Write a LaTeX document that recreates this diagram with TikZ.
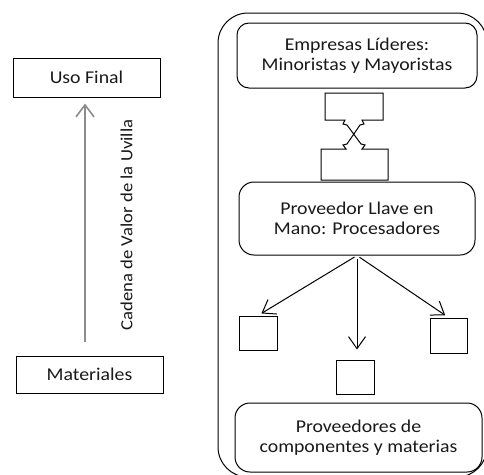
\documentclass[tikz,border=0pt]{standalone}
\usepackage{fontspec}
\setmainfont{Carlito}[FakeStretch=1.1]
\usetikzlibrary{arrows.meta}
\begin{document}
\begin{tikzpicture}[x=1pt,y=-1pt,
  txt/.style={font=\fontsize{18}{19.5}\selectfont, text=black!90, align=center, inner sep=0pt},
  sqbox/.style={draw, line width=1pt, inner sep=0pt, anchor=center},
  rbox/.style={txt, draw, line width=1pt, rounded corners=13pt, anchor=center},
  blarrow/.style={line width=1pt, -{Straight Barb[length=12pt,width=17pt,line width=1pt]}},
  grarrow/.style={draw=black!45, line width=1.6pt, -{Straight Barb[length=12pt,width=18pt,line width=1.6pt]}}]
\useasboundingbox (0,0) rectangle (484,474);
\begin{scope}
\clip (0,0) rectangle (484,474);
% outer container
\draw[line width=1pt, rounded corners=30pt] (218,13) rectangle (487,477);
\end{scope}
% left side
\node[sqbox, txt, minimum width=147pt, minimum height=39pt] (uso) at (86.5,77.5) {Uso Final};
\node[sqbox, txt, minimum width=147pt, minimum height=37pt] (mat) at (89.5,374.5) {Materiales};
\coordinate (ab) at ([xshift=-4.5pt]mat.north);
\draw[grarrow, shorten <=14pt, shorten >=6pt] (ab) -- (uso.south -| ab);
\node[txt, font=\fontsize{17}{19}\selectfont, rotate=90] (lbl) at (126.5,225) {Cadena de Valor de la Uvilla};
% right side
\node[rbox, minimum width=240pt, minimum height=65pt, rounded corners=12pt] (emp) at (357,55.5) {Empresas Líderes:\\Minoristas y Mayoristas};
\node[rbox, minimum width=236pt, minimum height=73pt, rounded corners=15pt] (proc) at (357,218.5) {Proveedor Llave en\\Mano: Procesadores};
\node[rbox, minimum width=247pt, minimum height=69pt, rounded corners=15pt] (prov) at (358.5,437.5) {Proveedores de\\componentes y materias};
% crossed connector shape
\draw[line width=1pt, line join=miter]
  (345,120)--(343,124)--(347,125)--(361,144)--(365,145)--(362,149)--(388,149)--(388,180)--(321,180)--(321,149)--(346,149)--(343,145)--(347,144)--(360,125)--(364,124)--(362,120)--(383,120)--(383,93)--(325,93)--(325,120)--cycle;
% small squares
\node[sqbox, minimum width=38pt, minimum height=34pt] (sqL) at (258,333) {};
\node[sqbox, minimum width=37pt, minimum height=35pt] (sqR) at (448.5,335.5) {};
\node[sqbox, minimum width=38pt, minimum height=34pt] (sqM) at (355,377) {};
% arrows
\draw[blarrow, shorten <=3pt, shorten >=4pt] (proc.south) -- (sqL.north);
\draw[blarrow, shorten <=3pt, shorten >=4pt] (proc.south) -- (sqR.north);
\draw[blarrow, shorten <=3pt, shorten >=10pt] (proc.south) -- (proc.south |- sqM.north);
\end{tikzpicture}
\end{document}
